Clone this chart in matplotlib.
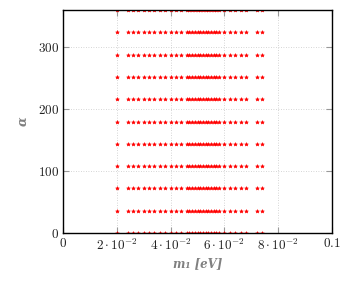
import matplotlib
matplotlib.use("Agg")
import matplotlib.pyplot as plt

plt.rcParams['mathtext.fontset'] = 'cm'
plt.rcParams['font.family'] = 'serif'
plt.rcParams['font.serif'] = ['DejaVu Serif']

# data: m1 sample values (eV) and alpha levels (deg)
m1_values = [0.020, 0.024, 0.026, 0.028, 0.030, 0.032, 0.034, 0.036, 0.038,
             0.040, 0.042, 0.044, 0.046, 0.047, 0.048, 0.049, 0.050, 0.051,
             0.052, 0.053, 0.054, 0.055, 0.056, 0.057, 0.058, 0.060, 0.062,
             0.064, 0.066, 0.068, 0.072, 0.074]
alpha_values = [0, 36, 72, 108, 144, 180, 216, 252, 288, 324, 360]

x_ticks = [0, 0.02, 0.04, 0.06, 0.08, 0.1]
x_tick_labels = [r'$0$', r'$2\cdot10^{-2}$', r'$4\cdot10^{-2}$',
                 r'$6\cdot10^{-2}$', r'$8\cdot10^{-2}$', r'$0.1$']
y_ticks = [0, 100, 200, 300]
y_tick_labels = [r'$0$', r'$100$', r'$200$', r'$300$']

xs = []
ys = []
for a in alpha_values:
    for m in m1_values:
        xs.append(m)
        ys.append(a)

fig = plt.figure(figsize=(3.54, 2.85), dpi=100)
ax = fig.add_axes([0.178, 0.182, 0.760, 0.783])
ax.plot(xs, ys, linestyle='none', marker='*', color='red', markersize=2.8,
        markeredgewidth=0.4, clip_on=True)

ax.set_xlim(0, 0.1)
ax.set_ylim(0, 360)
ax.set_xticks(x_ticks)
ax.set_xticklabels(x_tick_labels)
ax.set_yticks(y_ticks)
ax.set_yticklabels(y_tick_labels)
ax.tick_params(direction='in', length=4, width=0.8, color='#999999',
               labelsize=9.5, labelcolor='#222222', top=True, right=True, pad=3)
ax.grid(True, linestyle=(0, (1, 2)), color='#c8c8c8', linewidth=0.6)
for s in ax.spines.values():
    s.set_linewidth(1.0)
    s.set_color('black')

ax.set_xlabel('m\u2081 [eV]', fontsize=8.5, color='#808080', labelpad=3,
              fontstyle='italic', fontweight='bold', family='DejaVu Serif')
ax.set_ylabel('\u03b1', fontsize=9, color='#808080', labelpad=6,
              fontstyle='italic', fontweight='bold', family='DejaVu Serif')

fig.savefig('out.png', dpi=100)
